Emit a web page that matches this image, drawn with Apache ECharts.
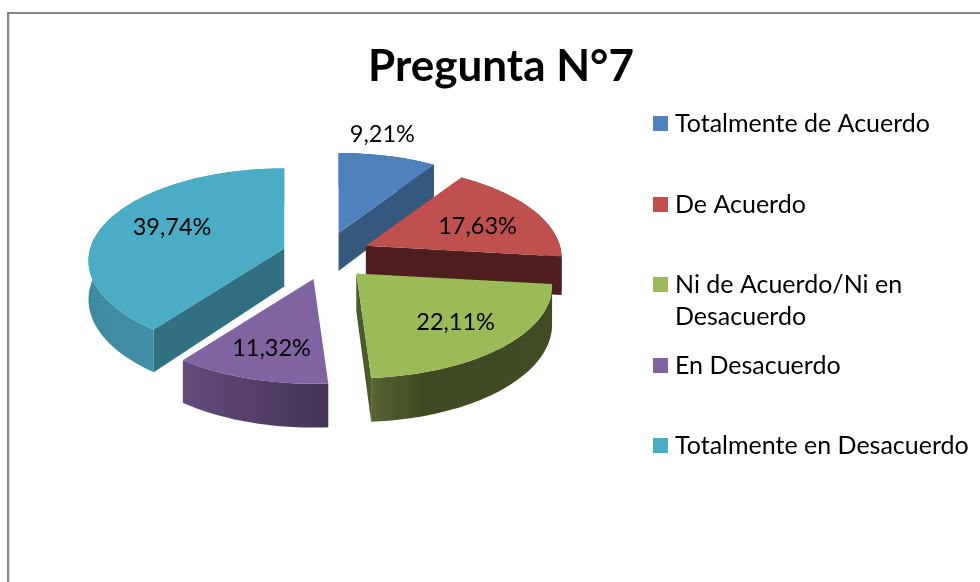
<!DOCTYPE html>
<html><head><meta charset="utf-8">
<style>html,body{margin:0;padding:0;background:#fff}#c{width:980px;height:582px}</style>
<script src="https://cdn.jsdelivr.net/npm/echarts@6/dist/echarts.min.js"></script>
</head><body><div id="c"></div>
<script>
const categories = ['Totalmente de Acuerdo','De Acuerdo','Ni de Acuerdo/Ni en Desacuerdo','En Desacuerdo','Totalmente en Desacuerdo'];
const values = [9.21,17.63,22.11,11.32,39.74];
const chartTitle = 'Pregunta N°7';

const topColors = ['#4f81bd','#c0504d','#9bbb59','#8064a2','#4bacc6'];
const cutColors = ['#35587f','#4e1f1e','#4b5a2a','#4a3960','#317080'];
const rimStops = [
  [[0,'#375a84'],[1,'#375a84']],
  [[0,'#5a2423'],[1,'#4e1f1e']],
  [[0,'#566533'],[0.28,'#3f4a22'],[1,'#414c24']],
  [[0,'#644b7b'],[1,'#433355']],
  [[0,'#3e8aa0'],[1,'#4a9ab2']]
];
const labelReach = [1.28,0.63,0.67,0.66,0.63];
const labelNudge = [[-19,0],[7,4],[0,0],[0,4],[-1,-4]];
const zOrder = [1,2,5,4,3];
const legendTops = [111,192,272,353,433];

const FONT = 'Lato';
const CX=326, CY=256, RX=194, RY=90.7, K=0.134, DEPTH=38, EX=44, EY=24;
const total = values.reduce((a,b)=>a+b,0);
const rad = v => v/total*Math.PI*2;

function proj(t){ const w=1+K*Math.cos(t); return {x:RX*Math.sin(t)/w, y:-RY*Math.cos(t)/w, d:DEPTH/w}; }

function sliceItem(i){
  return function(params, api){
    const val = api.value(0);
    let before = 0; for(let k=0;k<i;k++) before += values[k];
    const a0 = rad(before), a1 = a0+rad(val), mid=(a0+a1)/2;
    const ax = CX+EX*Math.sin(mid), ay = CY-EY*Math.cos(mid);
    const n = Math.max(8,Math.ceil((a1-a0)/0.02));
    const arc=[], low=[];
    for(let s=0;s<=n;s++){
      const p=proj(a0+(a1-a0)*s/n);
      arc.push([ax+p.x,ay+p.y]); low.push([ax+p.x,ay+p.y+p.d]);
    }
    const kids=[];
    const rimFill={type:'linear',x:0,y:0,x2:1,y2:0,colorStops:rimStops[i].map(s=>({offset:s[0],color:s[1]}))};
    kids.push({type:'polygon',shape:{points:arc.concat(low.slice().reverse())},style:{fill:rimFill}});
    const face=(pt,lp)=>({type:'polygon',shape:{points:[[ax,ay],pt,lp,[ax,ay+DEPTH]]},style:{fill:cutColors[i]}});
    if(Math.cos(a0-Math.PI/2)<0) kids.push(face(arc[0],low[0]));
    if(Math.cos(a1+Math.PI/2)<0) kids.push(face(arc[n],low[n]));
    kids.push({type:'polygon',shape:{points:[[ax,ay]].concat(arc)},style:{fill:topColors[i]}});
    const lp=proj(mid), r=labelReach[i];
    kids.push({type:'text',x:ax+lp.x*r+labelNudge[i][0],y:ay+lp.y*r+labelNudge[i][1],style:{
      text:val.toFixed(2).replace('.',',')+'%',fill:'#000',font:'23.5px '+FONT,align:'center',verticalAlign:'middle'}});
    return {type:'group',children:kids};
  };
}

const chart = echarts.init(document.getElementById('c'),null,{renderer:'canvas'});
chart.setOption({
  animation:false,
  backgroundColor:'#fff',
  title:{text:chartTitle,left:496,top:40,textAlign:'center',
    textStyle:{fontFamily:FONT,fontWeight:'bold',fontSize:44,color:'#000'}},
  legend:categories.map((c,i)=>({
    data:[c],left:653,top:legendTops[i],orient:'vertical',icon:'rect',itemWidth:15,itemHeight:15,selectedMode:false,padding:0,
    formatter:n=>n==='Ni de Acuerdo/Ni en Desacuerdo'?'Ni de Acuerdo/Ni en':n,
    textStyle:{fontFamily:FONT,fontSize:25,color:'#000',padding:[0,0,0,2]}
  })),
  graphic:[
    {type:'rect',z:-1,shape:{x:8,y:13,width:1000,height:600},style:{fill:'#fff',stroke:'#868686',lineWidth:2}},
    {type:'line',z:-1,shape:{x1:9.5,y1:14,x2:9.5,y2:582},style:{stroke:'#e4e4e4',lineWidth:1}},
    {type:'text',left:675,top:304,style:{text:'Desacuerdo',font:'25px '+FONT,fill:'#000'}}
  ],
  series:categories.map((c,i)=>({
    type:'custom',name:c,coordinateSystem:'none',silent:true,z:zOrder[i],
    itemStyle:{color:topColors[i]},
    data:[[values[i]]],
    renderItem:sliceItem(i)
  }))
});
</script></body></html>
